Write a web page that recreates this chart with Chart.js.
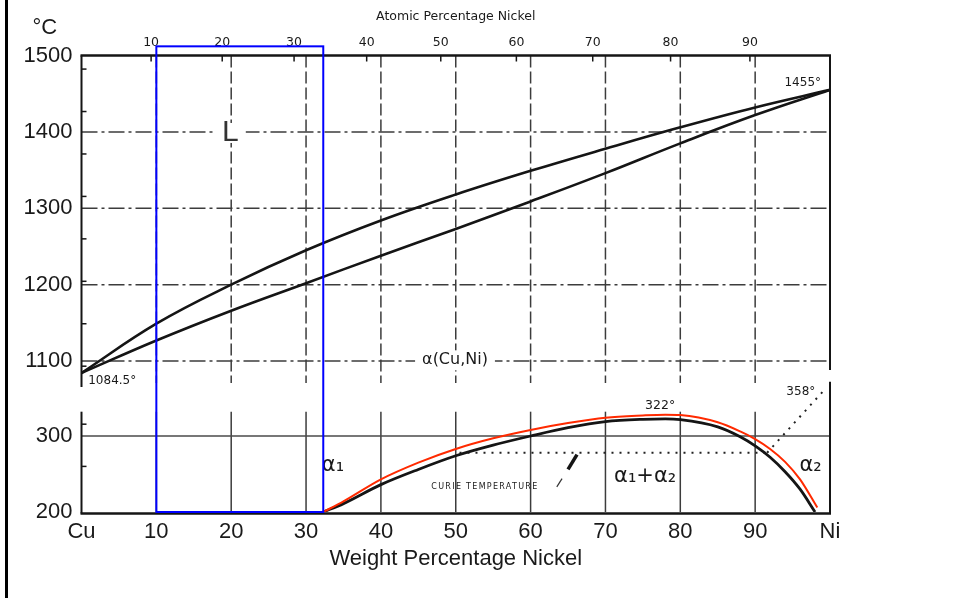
<!DOCTYPE html>
<html><head><meta charset="utf-8">
<script src="https://cdn.jsdelivr.net/npm/chart.js@4"></script>
<style>
html,body{margin:0;padding:0;background:#fff;}
#wrap{position:relative;width:955px;height:598px;overflow:hidden;background:#fff;}
#edge{position:absolute;left:5px;top:0;width:3px;height:598px;background:#000;}
canvas{position:absolute;left:0;top:0;}
</style></head><body>
<div id="wrap"><canvas id="c" width="955" height="598"></canvas><div id="edge"></div></div>
<script>
// ---- data ----
const weightPct  = [0, 10, 20, 30, 40, 50, 60, 70, 80, 90, 100];
const liquidusC  = [1084.5, 1149, 1200, 1245, 1284, 1318, 1349, 1378, 1406, 1432, 1455];
const solidusC   = [1084.5, 1127, 1166, 1202, 1238, 1273, 1309, 1346, 1385, 1422, 1455];

const gapWt = [32.3, 35, 40, 45, 50, 55, 60, 65, 70, 75, 78, 80, 85, 88, 90, 92, 94, 96, 98];
const gapC  = [200, 211, 236, 256, 274, 288, 300, 311, 319, 322, 322.5, 321.5, 312, 299, 287, 272, 253, 230, 200];

const redWt = [32.3, 35, 40, 45, 50, 55, 60, 65, 70, 75, 78, 80, 85, 88, 90, 92, 94, 96, 98.3];
const redC  = [200, 214, 243, 265, 283, 297, 308, 317, 324, 327, 328, 327.5, 318, 306, 296, 283, 266, 243, 206];

const curieWt   = [50.5, 91.5];
const curieC    = [278, 278];
const niCurieWt = [91.6, 99];
const niCurieC  = [278, 358];
const pointerWt = [65.0, 66.2];
const pointerC  = [256, 275.5];
const tailWt    = [63.5, 64.2];
const tailC     = [233, 244];

const boxWt = [10, 32.3];
const boxC  = [200, 1512];

const xTickValues  = [0, 10, 20, 30, 40, 50, 60, 70, 80, 90, 100];
const xTickLabels  = ['Cu', '10', '20', '30', '40', '50', '60', '70', '80', '90', 'Ni'];
const atomicTickWt = [9.3, 18.8, 28.4, 38.1, 48.0, 58.1, 68.3, 78.7, 89.3];
const atomicTickLabels = ['10', '20', '30', '40', '50', '60', '70', '80', '90'];
const topTicksC = [1100, 1200, 1300, 1400, 1500];
const botTicksC = [200, 300];
const gridWt = [10, 20, 30, 40, 50, 60, 70, 80, 90];
const fahrenheitTop = [2000, 2100, 2200, 2300, 2400, 2500, 2600, 2700];
const fahrenheitBot = [400, 500, 600];

// ---- presentation ----
const FONT = '"Liberation Sans", "DejaVu Sans", sans-serif';
const DJ = '"DejaVu Sans", "Liberation Sans", sans-serif';
Chart.defaults.font.family = FONT;
const INK = '#151515';

const labels = [
  {t: 'L', x: 19.9, y: 1398.6, ax: 'yTop', font: '30px ' + FONT, color: '#333', bg: true},
  {t: 'α(Cu,Ni)', x: 49.9, y: 1101, ax: 'yTop', font: '16px ' + DJ, bg: true},
  {t: '1084.5°', x: 0.9, y: 1074, ax: 'yTop', font: '12px ' + DJ, align: 'left'},
  {t: '1455°', x: 98.8, y: 1464, ax: 'yTop', font: '12px ' + DJ, align: 'right'},
  {t: '°C', x: -4.9, y: 1536, ax: 'yTop', font: '22px ' + FONT},
  {t: '322°', x: 77.3, y: 340, ax: 'yBot', font: '12.5px ' + DJ},
  {t: '358°', x: 96.1, y: 358.5, ax: 'yBot', font: '12px ' + DJ},
  {t: 'α₁', x: 33.6, y: 261, ax: 'yBot', font: '21px ' + DJ},
  {t: 'α₁+α₂', x: 75.3, y: 247, ax: 'yBot', font: '21px ' + DJ},
  {t: 'α₂', x: 97.4, y: 261, ax: 'yBot', font: '21px ' + DJ},
  {t: 'CURIE TEMPERATURE', x: 53.9, y: 233.5, ax: 'yBot', font: '8px ' + DJ, spacing: '1.3px'}
];

function seg(ctx, x1, y1, x2, y2) { ctx.beginPath(); ctx.moveTo(x1, y1); ctx.lineTo(x2, y2); ctx.stroke(); }
const fToC = f => (f - 32) * 5 / 9;

const paper = {
  id: 'paper',
  beforeDatasetsDraw(chart) {
    const {ctx, scales: {x, yTop, yBot}} = chart;
    ctx.save();
    ctx.strokeStyle = '#3c3c3c';
    ctx.lineWidth = 1.5;
    ctx.setLineDash([16, 4, 3, 4]);
    for (const v of topTicksC.slice(0, -1)) { const py = yTop.getPixelForValue(v); seg(ctx, x.left, py, x.right, py); }
    ctx.setLineDash([12, 4]);
    for (const w of gridWt) { const px = x.getPixelForValue(w); seg(ctx, px, yTop.top, px, yTop.bottom - 3); }
    ctx.setLineDash([]);
    const yb0 = yBot.getPixelForValue(332);
    for (const w of gridWt) { const px = x.getPixelForValue(w); seg(ctx, px, yb0, px, yBot.bottom); }
    ctx.strokeStyle = '#4a4a4a';
    const p300 = yBot.getPixelForValue(300); seg(ctx, x.left, p300, x.right, p300);
    for (const L of labels) {
      const sc = chart.scales[L.ax];
      const px = x.getPixelForValue(L.x), py = sc.getPixelForValue(L.y);
      ctx.font = L.font;
      ctx.letterSpacing = L.spacing || '0px';
      ctx.textAlign = L.align || 'center';
      ctx.textBaseline = 'middle';
      if (L.bg) {
        const w = ctx.measureText(L.t).width + 14;
        ctx.fillStyle = '#fff';
        ctx.fillRect(px - w / 2, py - 10, w, 20);
      }
      ctx.fillStyle = L.color || '#1a1a1a';
      ctx.fillText(L.t, px, py);
    }
    ctx.letterSpacing = '0px';
    ctx.restore();
  },
  afterDatasetsDraw(chart) {
    const {ctx, scales: {x, yTop, yBot}} = chart;
    ctx.save();
    ctx.strokeStyle = INK;
    ctx.lineCap = 'butt';
    ctx.lineWidth = 2.5;
    seg(ctx, x.left - 1, yTop.top, x.right + 1, yTop.top);
    seg(ctx, x.left - 1, yBot.bottom + 1.5, x.right + 1, yBot.bottom + 1.5);
    ctx.lineWidth = 2;
    seg(ctx, x.left, yTop.top, x.left, yTop.bottom + 1);
    seg(ctx, x.left, yBot.getPixelForValue(332), x.left, yBot.bottom + 1.5);
    seg(ctx, x.right, yTop.top, x.right, yTop.bottom - 16);
    seg(ctx, x.right, yBot.getPixelForValue(371.5), x.right, yBot.bottom + 1.5);
    ctx.lineWidth = 1.5;
    for (const f of fahrenheitTop) { const py = yTop.getPixelForValue(fToC(f)); if (py > yTop.top + 4 && py < yTop.bottom) seg(ctx, x.left, py, x.left + 5, py); }
    for (const f of fahrenheitBot) { const py = yBot.getPixelForValue(fToC(f)); if (py > yBot.getPixelForValue(332) && py < yBot.bottom - 4) seg(ctx, x.left, py, x.left + 5, py); }
    for (const w of atomicTickWt) { const px = x.getPixelForValue(w); seg(ctx, px, yTop.top, px, yTop.top + 6); }
    ctx.strokeStyle = '#0000ff';
    ctx.lineWidth = 2;
    const bx1 = x.getPixelForValue(boxWt[0]), bx2 = x.getPixelForValue(boxWt[1]);
    const by1 = yTop.getPixelForValue(boxC[1]), by2 = yBot.getPixelForValue(boxC[0]);
    ctx.strokeRect(bx1, by1, bx2 - bx1, by2 - by1);
    ctx.restore();
  }
};

const pts = (xs, ys) => xs.map((v, i) => ({x: v, y: ys[i]}));
const fixW = w => s => { s.width = w; };
const fixH = h => s => { s.height = h; };
const plain = v => String(v);

new Chart(document.getElementById('c'), {
  type: 'line',
  data: {
    datasets: [
      {label: 'Red trace', data: pts(redWt, redC), yAxisID: 'yBot', borderColor: '#ff2a00', borderWidth: 2, cubicInterpolationMode: 'monotone', order: 0},
      {label: 'Liquidus', data: pts(weightPct, liquidusC), yAxisID: 'yTop', borderColor: INK, borderWidth: 2.6, tension: 0.4, order: 1},
      {label: 'Solidus', data: pts(weightPct, solidusC), yAxisID: 'yTop', borderColor: INK, borderWidth: 2.6, tension: 0.4, order: 1},
      {label: 'Miscibility gap', data: pts(gapWt, gapC), yAxisID: 'yBot', borderColor: INK, borderWidth: 2.8, cubicInterpolationMode: 'monotone', order: 1},
      {label: 'Curie temperature', data: pts(curieWt, curieC), yAxisID: 'yBot', borderColor: '#222', borderWidth: 2, borderDash: [2, 6], order: 1},
      {label: 'Curie temperature Ni side', data: pts(niCurieWt, niCurieC), yAxisID: 'yBot', borderColor: '#222', borderWidth: 2, borderDash: [2, 6], order: 1},
      {label: 'Pointer', data: pts(pointerWt, pointerC), yAxisID: 'yBot', borderColor: INK, borderWidth: 3.5, order: 1},
      {label: 'Pointer tail', data: pts(tailWt, tailC), yAxisID: 'yBot', borderColor: '#333', borderWidth: 1.2, order: 1}
    ]
  },
  options: {
    responsive: false,
    animation: false,
    layout: {padding: {left: 0, right: 125, top: 0, bottom: 0}},
    elements: {point: {radius: 0, hoverRadius: 0}},
    plugins: {legend: {display: false}, tooltip: {enabled: false}},
    scales: {
      x: {
        type: 'linear', position: 'bottom', min: 0, max: 100,
        afterFit: fixH(86),
        afterBuildTicks: s => { s.ticks = xTickValues.map(v => ({value: v})); },
        grid: {display: false, drawTicks: false}, border: {display: false},
        ticks: {padding: 7, autoSkip: false, maxRotation: 0, color: '#1a1a1a', font: {size: 22},
                callback: (v, i) => xTickLabels[i]},
        title: {display: true, text: 'Weight Percentage Nickel', color: '#1a1a1a', font: {size: 22}, padding: {top: 0, bottom: 26}}
      },
      x2: {
        type: 'linear', position: 'top', min: 0, max: 100,
        afterFit: fixH(55.5),
        afterBuildTicks: s => { s.ticks = atomicTickWt.map(v => ({value: v})); },
        grid: {display: false, drawTicks: false}, border: {display: false},
        ticks: {padding: 5, autoSkip: false, maxRotation: 0, color: '#1a1a1a', font: {size: 12.5, family: DJ},
                callback: (v, i) => atomicTickLabels[i]},
        title: {display: true, text: 'Atomic Percentage Nickel', color: '#1a1a1a', font: {size: 12.5, family: DJ}, padding: {top: 9, bottom: 0}}
      },
      yBot: {
        type: 'linear', position: 'left', stack: 'temp', stackWeight: 126, min: 200, max: 365.8,
        afterFit: fixW(81.5),
        afterBuildTicks: s => { s.ticks = botTicksC.map(v => ({value: v})); },
        grid: {display: false, drawTicks: false}, border: {display: false},
        ticks: {padding: 9, color: '#1a1a1a', font: {size: 22}, callback: plain}
      },
      yTop: {
        type: 'linear', position: 'left', stack: 'temp', stackWeight: 330.5, min: 1067.4, max: 1500,
        afterFit: fixW(81.5),
        afterBuildTicks: s => { s.ticks = topTicksC.map(v => ({value: v})); },
        grid: {display: false, drawTicks: false}, border: {display: false},
        ticks: {padding: 9, color: '#1a1a1a', font: {size: 22}, callback: plain}
      }
    }
  },
  plugins: [paper]
});
</script>
</body></html>
